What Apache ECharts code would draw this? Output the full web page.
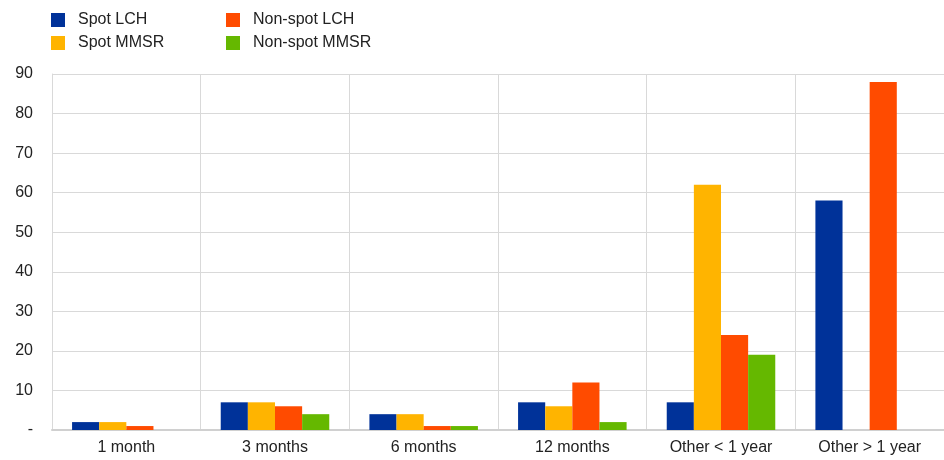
<!DOCTYPE html>
<html><head><meta charset="utf-8">
<script src="https://cdn.jsdelivr.net/npm/echarts@6/dist/echarts.min.js"></script>
<style>html,body{margin:0;padding:0;background:#fff}#c{width:944px;height:460px}</style>
</head><body><div id="c"></div>
<script>
const categories = ['1 month', '3 months', '6 months', '12 months', 'Other < 1 year', 'Other > 1 year'];
const spotLCH = [2, 7, 4, 7, 7, 58];
const spotMMSR = [2, 7, 4, 6, 62, 0];
const nonSpotLCH = [1, 6, 1, 12, 24, 88];
const nonSpotMMSR = [0, 4, 1, 2, 19, 0];
const yTicks = [0, 10, 20, 30, 40, 50, 60, 70, 80, 90];

const font = 'Liberation Sans, Arial, sans-serif';
const chart = echarts.init(document.getElementById('c'));
const mk = (name, data, color) => ({
  name, type: 'bar', data, barGap: 0, barCategoryGap: '27%',
  itemStyle: { color }, emphasis: { disabled: true }
});
const legendText = { fontFamily: font, fontSize: 16, color: '#222', padding: [0, 0, 0, 8] };
chart.setOption({
  animation: false,
  legend: [
    { left: 46, top: 7, orient: 'vertical', itemWidth: 14, itemHeight: 14, itemGap: 7,
      icon: 'rect', data: ['Spot LCH', 'Spot MMSR'], textStyle: legendText },
    { left: 221, top: 7, orient: 'vertical', itemWidth: 14, itemHeight: 14, itemGap: 7,
      icon: 'rect', data: ['Non-spot LCH', 'Non-spot MMSR'], textStyle: legendText }
  ],
  grid: { left: 52, right: 0, top: 74, bottom: 30, containLabel: false },
  xAxis: {
    type: 'category', data: categories,
    axisLine: { lineStyle: { color: '#d0d0d0', width: 2 } },
    axisTick: { show: false },
    splitLine: { show: true, lineStyle: { color: '#d9d9d9' } },
    axisLabel: { fontFamily: font, fontSize: 16, color: '#222', margin: 10 }
  },
  yAxis: {
    type: 'value', min: yTicks[0], max: yTicks[yTicks.length - 1], interval: 10,
    axisLine: { show: true, lineStyle: { color: '#d9d9d9' } },
    axisTick: { show: false },
    splitLine: { lineStyle: { color: '#d9d9d9' } },
    axisLabel: { fontFamily: font, fontSize: 16, color: '#222', margin: 19,
      formatter: v => v === 0 ? '-' : String(v) }
  },
  series: [
    mk('Spot LCH', spotLCH, '#003299'),
    mk('Spot MMSR', spotMMSR, '#FFB400'),
    mk('Non-spot LCH', nonSpotLCH, '#FF4B00'),
    mk('Non-spot MMSR', nonSpotMMSR, '#65B800')
  ]
});
</script></body></html>
